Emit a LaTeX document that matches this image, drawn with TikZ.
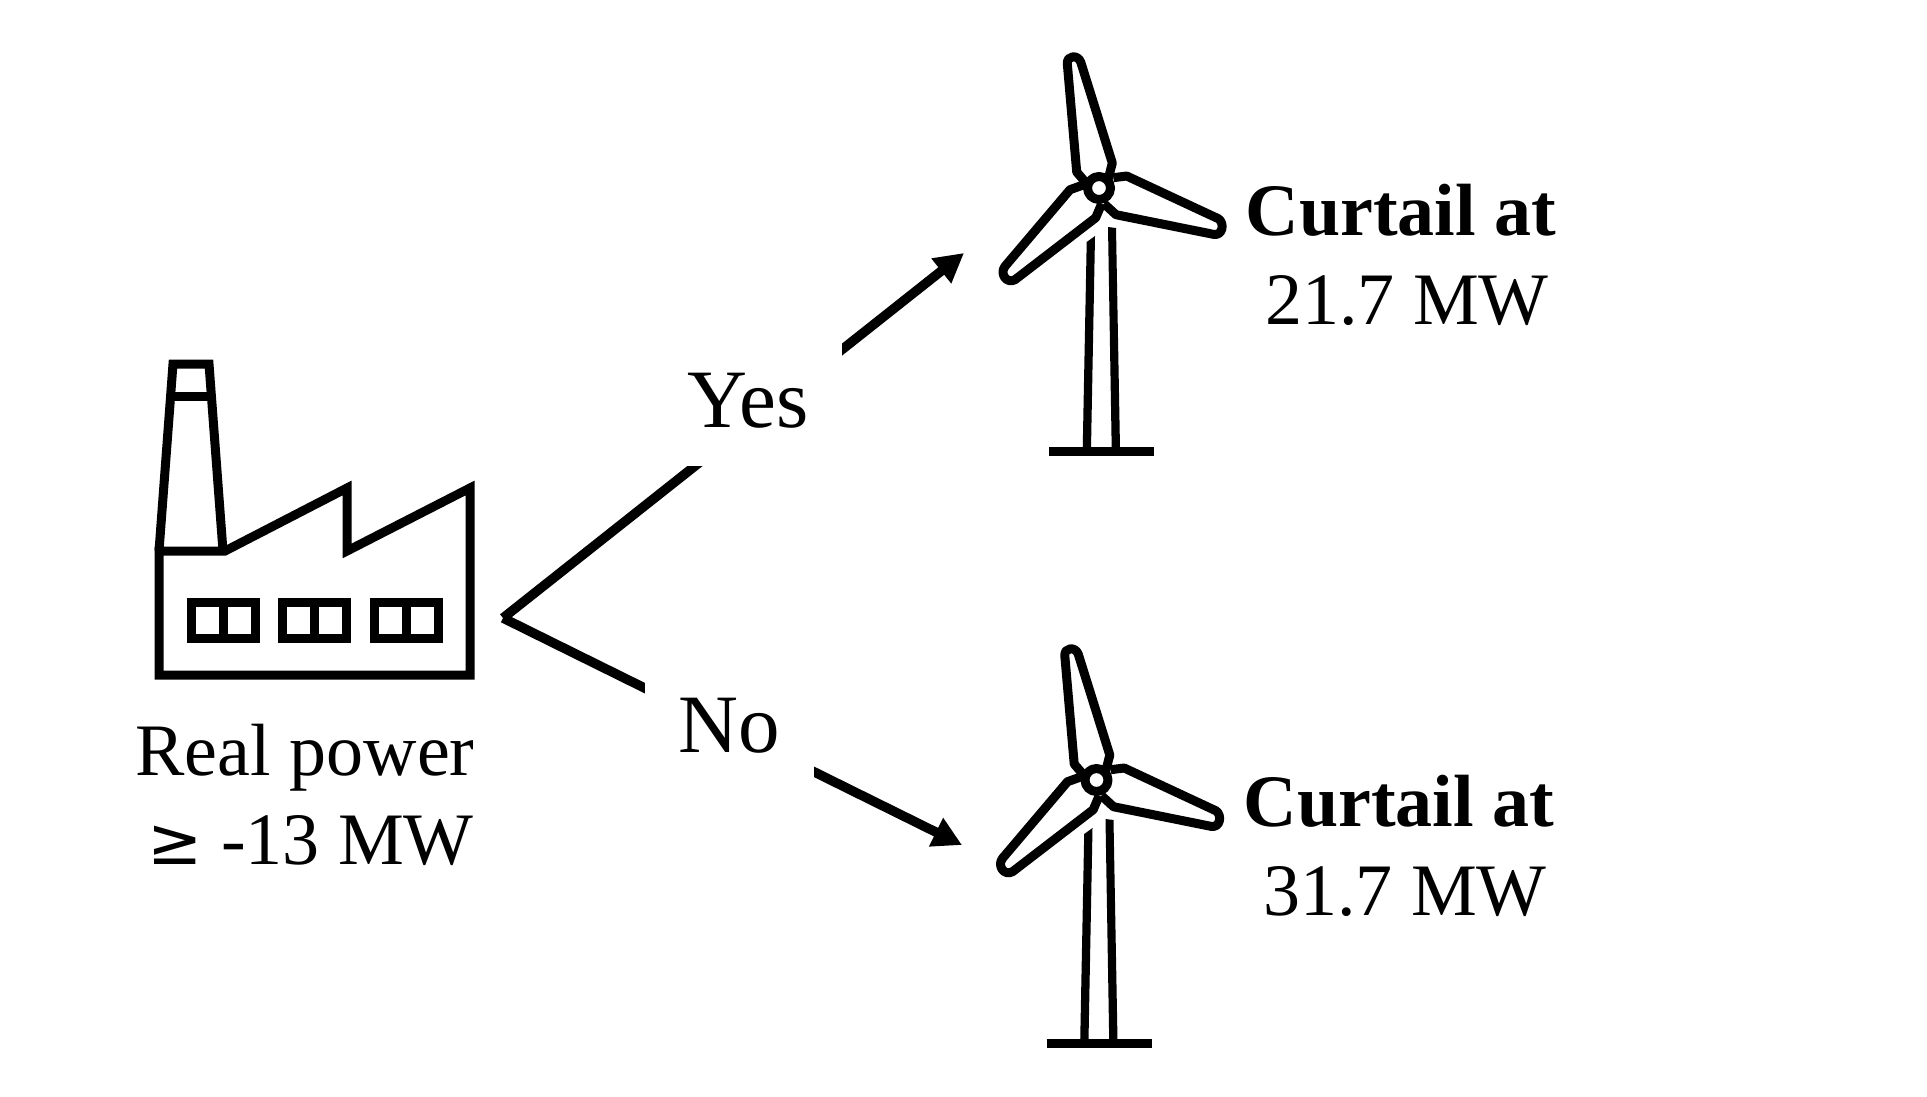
\documentclass[tikz,border=0pt]{standalone}
\usepackage{fontspec}
\setmainfont{Liberation Serif}
\newfontfamily\symbfont{DejaVu Sans}
\usetikzlibrary{arrows.meta}
\tikzset{
    icon/.style={line width=9pt, line join=miter, black},
    blade/.style={line width=9pt, line join=round, black},
    flow/.style={line width=9.5pt, black},
    flowtip/.style={flow, -{Triangle[length=29pt,width=30pt]}},
    answer/.style={fill=white, inner sep=0pt, font=\fontsize{83}{100}\selectfont},
    caption/.style={align=center, inner sep=0pt, font=\fontsize{74}{89}\selectfont},
    turbine/.pic={
        \draw[blade] (9.3,-9.3) -- (13.3,-25) -- (-18.3,-126) .. controls (-21.3,-133.7) and (-32.3,-132.7) .. (-31.7,-124.3) -- (-22.3,-16) -- (-12.3,-4.3);
        \draw[blade] (14.3,-10.3) -- (27.7,-12) -- (119.3,30.7) .. controls (126,35) and (123.7,48.3) .. (114.3,46.3) -- (17,26.7) -- (5,15.7);
        \draw[blade] (-14,-3.7) -- (-29,1.7) -- (-94,78.3) .. controls (-99.7,85.7) and (-92.3,96.3) .. (-84,91.7) -- (-3.3,29.7) -- (2.7,15.7);
        \draw[blade, fill=white] (0,0) circle (11.5);
        % tower and foot
        \fill (-12.3,54) -- (-4,48) -- (-8,260.7) -- (-16.3,260.7) -- cycle;
        \fill (9,39) -- (17,40) -- (21,260.7) -- (12.7,260.7) -- cycle;
        \draw[line width=9pt] (-50,263.5) -- (55,263.5);
    },
}
\begin{document}
\begin{tikzpicture}[x=1pt, y=-1pt]
    \useasboundingbox (0,0) rectangle (1927,1096);

    % factory
    \draw[icon] (159,675) -- (159,551) -- (225,551) -- (347,488) -- (347,551) -- (470,488) -- (470,675) -- cycle;
    \draw[icon] (159,551) -- (173,364) -- (209,364) -- (223,551);
    \draw[icon] (171,396) -- (212,396);
    \foreach \wx in {191,282,374} {
        \draw[icon] (\wx,602) rectangle (\wx+64,638);
        \draw[icon] (\wx+32,602) -- (\wx+32,638);
    }

    \coordinate (fork) at (503,618);
    \coordinate (yestip) at (964,253);
    \coordinate (notip) at (962,845);
    \draw[flowtip] (fork) -- (yestip);
    \draw[flowtip] (fork) -- (notip);

    \node[answer, minimum width=188pt, minimum height=130pt] (yes) at (748,401) {Yes};
    \node[answer, minimum width=169pt, minimum height=130pt] (no) at (729.5,726) {No};

    \pic at (1099,188) {turbine};
    \pic at (1096.5,780) {turbine};

    \node[caption] (power) at (305,795) {Real power\\\hspace*{0.15em}{\symbfont\fontsize{66}{89}\selectfont ≥} -13 MW};
    \node[caption] (upper) at (1401,255) {\textbf{Curtail at}\\\hspace*{0.16em}21.7 MW};
    \node[caption] (lower) at (1399,846) {\textbf{Curtail at}\\\hspace*{0.16em}31.7 MW};
\end{tikzpicture}
\end{document}
